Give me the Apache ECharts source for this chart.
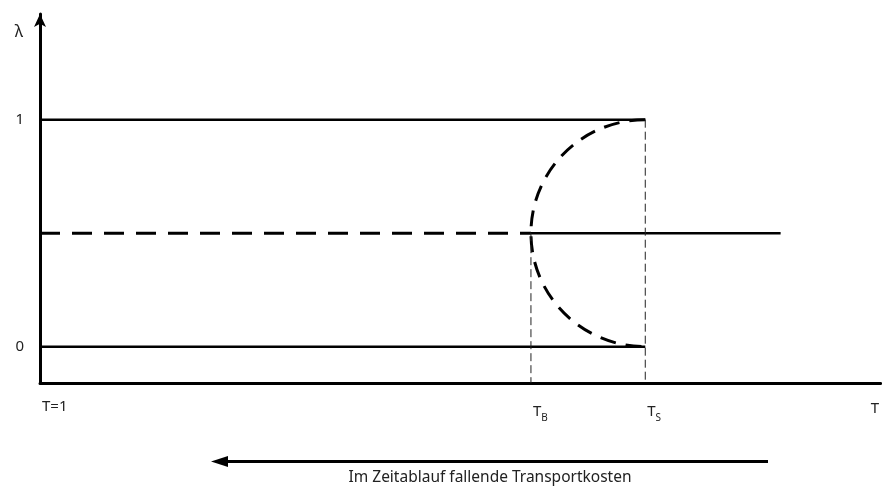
<!DOCTYPE html>
<html>
<head>
<meta charset="utf-8">
<script src="https://cdn.jsdelivr.net/npm/echarts@6/dist/echarts.min.js"></script>
<style>
  html, body { margin: 0; padding: 0; background: #fff; }
  #chart { width: 882px; height: 488px; }
</style>
</head>
<body>
<div id="chart"></div>
<script>
// positions on the T axis (0..100) and the lambda axis
const T_B = 58.4
const T_S = 72
const T_END = 88.1
const xTicks = [0, T_B, T_S]
const xTickLabels = ['T=1', '{t|T}{s|B}', '{t|T}{s|S}']
const yTicks = [0, 1]

const upperLine = [[0, 1], [T_S, 1]]
const lowerLine = [[0, 0], [T_S, 0]]
const midDashed = [[0, 0.5], [T_B, 0.5]]
const midSolid = [[T_B, 0.5], [T_END, 0.5]]
const guideB = [[T_B, 0.5], [T_B, -0.16]]
const guideS = [[T_S, 1], [T_S, -0.16]]
// half ellipse: top, left-most, bottom
const arcPoints = [T_S, 1, T_B, 0.5, T_S, 0]

const font = 'Noto Sans'

function solid(data) {
  return {
    type: 'line', data: data, symbol: 'none', silent: true,
    lineStyle: { color: '#000', width: 2.4 }
  }
}
function guide(data) {
  return {
    type: 'line', data: data, symbol: 'none', silent: true,
    lineStyle: { color: '#222', width: 1, type: [8, 4] }
  }
}

const chart = echarts.init(document.getElementById('chart'))
chart.setOption({
  animation: false,
  grid: { left: 40, right: 0, top: 14, bottom: 105 },
  xAxis: {
    type: 'value', min: 0, max: 100,
    name: 'T', nameLocation: 'end', nameGap: -10,
    nameTextStyle: { align: 'left', verticalAlign: 'top', padding: [18, 0, 0, 0], fontSize: 15, color: '#222', fontFamily: font },
    axisLine: { show: true, onZero: false, lineStyle: { color: '#000', width: 3 } },
    axisTick: { show: false },
    splitLine: { show: false },
    axisLabel: {
      customValues: xTicks,
      margin: 16,
      align: 'left',
      padding: [0, 0, 0, 2],
      color: '#222',
      fontSize: 15,
      fontFamily: font,
      formatter: function (v) {
        return xTickLabels[xTicks.indexOf(v)]
      },
      rich: {
        t: { fontSize: 15, fontFamily: font, color: '#222', lineHeight: 20, verticalAlign: 'bottom' },
        s: { fontSize: 10, fontFamily: font, color: '#222', lineHeight: 20, verticalAlign: 'bottom', padding: [0, 0, -4, 0] }
      }
    }
  },
  yAxis: {
    type: 'value', min: -0.16, max: 1.4656,
    name: 'λ', nameLocation: 'end', nameGap: -18,
    nameTextStyle: { align: 'right', verticalAlign: 'middle', padding: [0, 17, 0, 0], fontSize: 16, color: '#222', fontFamily: font },
    axisLine: {
      show: true, onZero: false,
      symbol: ['none', 'arrow'], symbolSize: [9, 13],
      lineStyle: { color: '#000', width: 3 }
    },
    axisTick: { show: false },
    splitLine: { show: false },
    axisLabel: {
      customValues: yTicks,
      margin: 16,
      color: '#222',
      fontSize: 15,
      fontFamily: font
    }
  },
  series: [
    solid(upperLine),
    solid(lowerLine),
    solid(midSolid),
    {
      type: 'line', data: midDashed, symbol: 'none', silent: true,
      lineStyle: { color: '#000', width: 3, type: [20, 12] }
    },
    guide(guideB),
    guide(guideS),
    {
      type: 'custom',
      silent: true,
      data: [arcPoints],
      encode: { x: [0, 2, 4], y: [1, 3, 5] },
      renderItem: function (params, api) {
        const a = api.coord([api.value(0), api.value(1)])
        const b = api.coord([api.value(2), api.value(3)])
        const c = api.coord([api.value(4), api.value(5)])
        const k = 0.5523
        const d = 'M' + a[0] + ' ' + a[1] +
          ' C' + (a[0] - k * (a[0] - b[0])) + ' ' + a[1] + ' ' + b[0] + ' ' + (b[1] - k * (b[1] - a[1])) + ' ' + b[0] + ' ' + b[1] +
          ' C' + b[0] + ' ' + (b[1] + k * (c[1] - b[1])) + ' ' + (c[0] - k * (c[0] - b[0])) + ' ' + c[1] + ' ' + c[0] + ' ' + c[1]
        return {
          type: 'path',
          shape: { pathData: d },
          style: { fill: 'none', stroke: '#000', lineWidth: 3, lineDash: [16, 10] }
        }
      }
    }
  ],
  graphic: [
    {
      type: 'line',
      shape: { x1: 768, y1: 461.5, x2: 226, y2: 461.5 },
      style: { stroke: '#000', lineWidth: 3 }
    },
    {
      type: 'polygon',
      shape: { points: [[211, 461.5], [228, 456], [228, 467]] },
      style: { fill: '#000' }
    },
    {
      type: 'text',
      x: 490, y: 478,
      style: {
        text: 'Im Zeitablauf fallende Transportkosten',
        fontSize: 15.5, fontFamily: font, fill: '#222',
        align: 'center', verticalAlign: 'middle'
      }
    }
  ]
})
</script>
</body>
</html>
